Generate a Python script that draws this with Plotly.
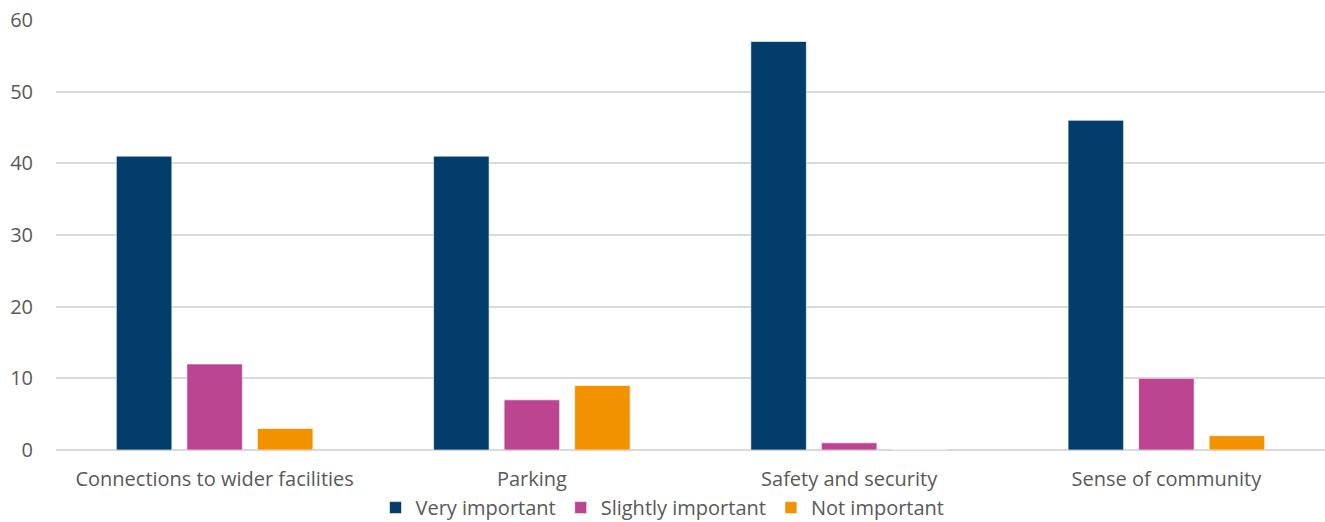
import plotly.graph_objects as go

categories = ["Connections to wider facilities", "Parking", "Safety and security", "Sense of community"]
very_important = [41, 41, 57, 46]
slightly_important = [12, 7, 1, 10]
not_important = [3, 9, 0, 2]
y_ticks = [0, 10, 20, 30, 40, 50, 60]

series = [
    ("Very important", very_important, "#033D6B"),
    ("Slightly important", slightly_important, "#BC4592"),
    ("Not important", not_important, "#F39200"),
]

fig = go.Figure()
for name, values, color in series:
    fig.add_trace(go.Bar(
        x=categories, y=values, name=name,
        marker=dict(color=color, line=dict(color="rgba(255,255,255,0.6)", width=1)),
    ))

font_family = "Open Sans, Noto Sans, sans-serif"
fig.update_layout(
    width=1325, height=522,
    margin=dict(l=56, r=0, t=20, b=72, autoexpand=False),
    plot_bgcolor="white", paper_bgcolor="white",
    barmode="group", bargap=0.333, bargroupgap=0.213,
    font=dict(family=font_family, size=20, color="#595959"),
    showlegend=True,
    legend=dict(
        orientation="h", x=0.5, xanchor="center", xref="container",
        y=-0.134, yanchor="middle", yref="paper",
        bgcolor="rgba(0,0,0,0)",
        font=dict(size=20, color="#595959"),
        itemwidth=30, tracegroupgap=0,
    ),
    xaxis=dict(showgrid=False, showline=False, ticks="", ticklabelstandoff=15,
               tickfont=dict(size=20, color="#595959")),
    yaxis=dict(range=[0, 60], tickvals=y_ticks, showgrid=True, gridcolor="#D9D9D9", gridwidth=1.5,
               zeroline=True, zerolinecolor="#D9D9D9", zerolinewidth=1.5,
               showline=False, ticks="", ticklabelstandoff=22,
               tickfont=dict(size=20, color="#595959")),
)

fig.write_html("out.html")
